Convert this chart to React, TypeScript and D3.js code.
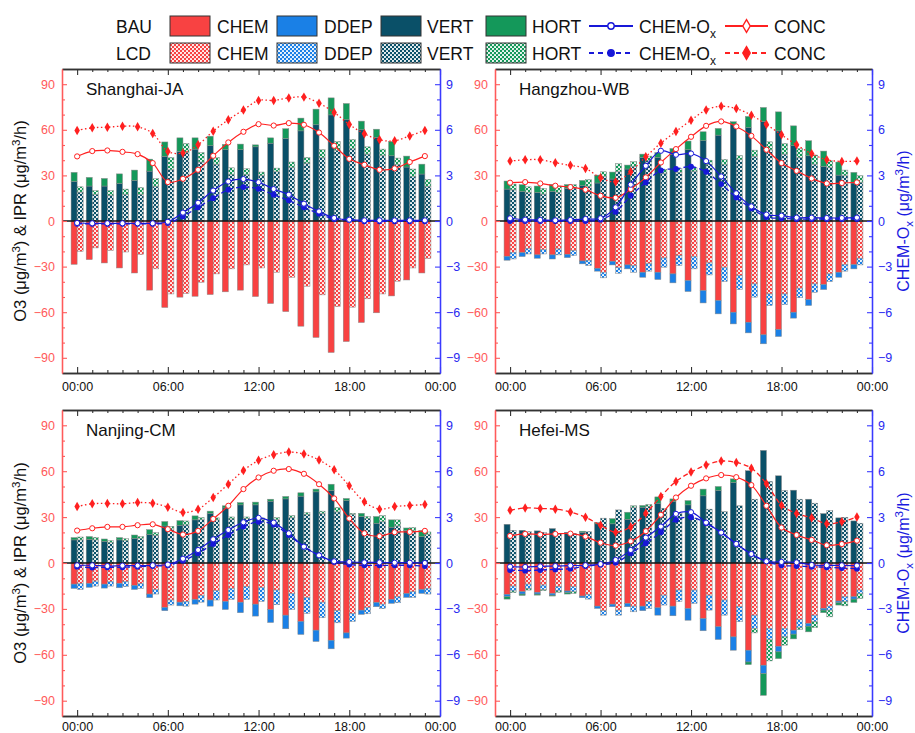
import React, { useEffect, useRef } from "react"
import * as d3 from "d3"

const W = 915
const H = 733

const HOURS = d3.range(24)
const X_TICKS = [0, 6, 12, 18, 24]
const X_TICK_LABELS = ["00:00", "06:00", "12:00", "18:00", "00:00"]
const Y_TICKS = [-90, -60, -30, 0, 30, 60, 90]
const Y2_TICKS = [-9, -6, -3, 0, 3, 6, 9]

// Shanghai-JA
const SH_BAU_VERT = [26, 23, 23, 24.7, 26.7, 32.8, 42.5, 45.8, 47.3, 49.5, 46.9, 46.9, 48.8, 51.2, 54.3, 59.3, 63.3, 69.8, 66.6, 60, 55, 42.9, 35.5, 30.9]
const SH_BAU_HORT = [6, 5.7, 5, 6.3, 6.8, 7.9, 9.5, 8.9, 7.4, 6.3, 3.5, 3.7, 1.3, 3.5, 6.4, 8.4, 10.3, 11.2, 10.7, 5.7, 5.4, 9.4, 7.2, 6.5]
const SH_BAU_CHEM = [-28.5, -25.4, -27.6, -30.9, -34.2, -45.5, -56.9, -50.1, -49.5, -48.4, -46.6, -45.5, -49.7, -54.3, -59.6, -69.2, -76.6, -86.5, -79.3, -66.8, -60.4, -49.3, -38.8, -34.2]
const SH_BAU_DDEP = [0, 0, 0, 0, 0, 0, 0, 0, 0, 0, 0, 0, 0, 0, 0, 0, 0, 0, 0, 0, 0, 0, 0, 0]
const SH_LCD_VERT = [19, 17.5, 17, 17.5, 17.5, 22.8, 33.7, 45, 38.8, 37.4, 30.4, 30.4, 30, 32.4, 35.2, 38.1, 41.6, 46.4, 47.5, 44, 43.1, 37, 29.1, 22.8]
const SH_LCD_HORT = [3.5, 2.5, 3, 3.5, 4.5, 5, 8.1, 6, 6.2, 4.4, 4.6, 4, 2.2, 2.4, 3.6, 3.7, 5.3, 5.9, 6.1, 4.8, 4.2, 4.4, 5.1, 4.6]
const SH_LCD_CHEM = [-20, -17.7, -19.3, -20.4, -22.1, -31.5, -48, -47.7, -40.3, -34.8, -31.5, -28.9, -30.9, -33.7, -37, -42.9, -48.6, -56.3, -56.7, -51.2, -48, -39.6, -30.9, -24.7]
const SH_LCD_DDEP = [0, 0, 0, 0, 0, 0, 0, 0, 0, 0, 0, 0, 0, 0, 0, 0, 0, 0, 0, 0, 0, 0, 0, 0]
const SH_BAU_CONC = [42.5, 46, 46.4, 45.5, 44, 38.1, 25.6, 27.8, 33.7, 42.9, 51.7, 58.7, 63.7, 62.8, 64.4, 63.3, 58.2, 49.5, 40.9, 37, 33.7, 34.6, 38.8, 42.7]
const SH_LCD_CONC = [59.6, 61.3, 61.7, 62.4, 62, 57.6, 45.8, 44.7, 50.1, 59.1, 66.6, 73.1, 79.3, 79.3, 81, 81.5, 77.5, 71.4, 63.5, 57.4, 53.4, 52.8, 56, 59.6]
const SH_BAU_CHEMOX = [-0.13, -0.15, -0.15, -0.15, -0.15, -0.15, -0.05, 0.55, 1.2, 2.0, 2.6, 2.76, 2.55, 2.1, 1.73, 1.14, 0.63, 0.2, 0.09, 0.04, 0.04, 0.04, 0.04, 0.04]
const SH_LCD_CHEMOX = [-0.18, -0.18, -0.18, -0.18, -0.18, -0.18, -0.13, 0.3, 0.9, 1.5, 2.06, 2.23, 2.12, 1.73, 1.36, 0.9, 0.48, 0.13, 0.07, -0.02, -0.02, -0.02, -0.02, -0.02]

// Hangzhou-WB
const HZ_BAU_VERT = [21, 19.5, 18.8, 19.5, 21.5, 23.2, 25, 27.6, 34.2, 41.8, 41.8, 44, 46.9, 52.8, 56.5, 63.7, 61.5, 65.3, 59.3, 49.5, 42.9, 35.9, 30.2, 25]
const HZ_BAU_HORT = [5.3, 4.4, 4.2, 4.5, 2.5, 3.5, 5.2, 4.6, 2.6, 2.2, 3.2, 3.7, 5.7, 5.9, 4.4, 1.6, 7.3, 9.4, 12.5, 13.1, 9.9, 10.1, 8.6, 7]
const HZ_BAU_CHEM = [-23.2, -20.8, -22.3, -22.3, -21.9, -26.3, -31.1, -26.5, -28.9, -33.7, -33.7, -34.8, -39.2, -45.8, -52.3, -60, -66.6, -74.9, -71.4, -60, -51.7, -41.8, -33.7, -28.7]
const HZ_BAU_DDEP = [-2.6, -2.6, -2.2, -2.7, -2.2, -1.9, -1.9, -2.4, -2.6, -3.3, -4.8, -5.9, -7.2, -8.1, -8.8, -7.7, -7, -5.9, -4.6, -3.9, -3.9, -3.3, -3.3, -2.8]
const HZ_LCD_VERT = [20.5, 18.8, 17.7, 18.8, 21.7, 22.6, 29.3, 32.6, 35.9, 39.6, 31.5, 32, 32.8, 37, 37, 40.3, 42.6, 46.9, 44, 41.8, 37.4, 35.2, 29.8, 25.4]
const HZ_LCD_HORT = [3.8, 3.7, 3.8, 4.2, 2.2, 4.6, 3.1, 5.1, 3.1, 3.1, 2.5, 2.5, 2.2, 3, 3.5, 2.7, 4, 5.2, 7, 5.9, 6, 4.4, 3.7, 4.4]
const HZ_LCD_CHEM = [-20.6, -18.2, -18.8, -18.4, -19.5, -25.8, -33.7, -30.4, -29.3, -28, -24.3, -22.8, -23.4, -27.6, -30.4, -35.9, -41.4, -48, -48, -44.2, -41.4, -34.8, -28.7, -24.5]
const HZ_LCD_DDEP = [-4.4, -3.5, -2.9, -3.9, -3.3, -3.5, -3.7, -4, -4.4, -5, -6.1, -6.5, -8.1, -7.9, -9.4, -9.2, -8.7, -7.6, -7, -6.3, -5.5, -5, -4.3, -4.4]
const HZ_BAU_CONC = [25.2, 25.6, 24.7, 23.2, 22.3, 20.6, 16.6, 15.3, 21, 28.7, 38.5, 47.3, 55.4, 62.6, 65.5, 62.2, 56, 46.9, 38.1, 33, 28, 24.7, 25, 25.4]
const HZ_LCD_CONC = [39.4, 40.3, 40.3, 38.3, 36.6, 34.6, 28.5, 25.8, 32.4, 42.3, 51.2, 58.9, 66.3, 73.1, 75.5, 74, 69.6, 63.5, 56.7, 50.1, 44.2, 40.3, 39.2, 39.4]
const HZ_BAU_CHEMOX = [0.18, 0.09, 0.07, 0.04, 0.07, 0.13, 0.18, 0.9, 2.39, 3.63, 4.62, 4.36, 4.44, 3.94, 2.93, 1.82, 0.96, 0.42, 0.35, 0.22, 0.22, 0.2, 0.2, 0.22]
const HZ_LCD_CHEMOX = [0, 0, 0, 0, 0, 0, 0.09, 0.61, 1.66, 2.54, 3.33, 3.42, 3.57, 3.24, 2.43, 1.55, 0.83, 0.26, 0.18, 0.13, 0.13, 0.13, 0.13, 0.13]

// Nanjing-CM
const NJ_BAU_VERT = [15.1, 15.5, 14.2, 15.1, 16.2, 18.6, 24.2, 24.7, 28.2, 32.5, 36, 38, 38, 40.4, 41.9, 43.7, 46.5, 47.4, 40.8, 30.4, 26, 23.4, 21.2, 17.3]
const NJ_BAU_HORT = [1.5, 1.8, 1.5, 1.5, 2.1, 3.2, 2.9, 3, 2.6, 1.4, 1.4, 1.5, 1.8, 1.3, 1.6, 2.2, 1.8, 4.1, 1.4, 2.1, 4.4, 4.8, 1.7, 3.9]
const NJ_BAU_CHEM = [-13.8, -13.3, -13.8, -13.3, -14.6, -20.3, -29, -25.6, -23.8, -24.2, -25.1, -25.6, -26.9, -30.4, -34.1, -38.2, -43.9, -50.5, -45.7, -30.8, -25.8, -23.8, -19.9, -17.3]
const NJ_BAU_DDEP = [-2.8, -2.6, -2.6, -2.9, -2.7, -2.4, -2.2, -2.4, -3.1, -4, -5.3, -6.9, -7.8, -8.5, -8.9, -8.5, -7.4, -5.6, -3.4, -2.8, -2.8, -2.6, -2.6, -2.6]
const NJ_LCD_VERT = [15.1, 15.1, 13.3, 14.6, 15.9, 18.1, 22.3, 24.9, 28.4, 28.2, 28.8, 29.2, 28.6, 28.4, 29.7, 31.7, 32.5, 33.4, 31.7, 29, 27.1, 24.2, 21, 18.6]
const NJ_LCD_HORT = [1.9, 1.7, 1.3, 1.3, 1.4, 1.8, 1.7, 2.6, 1.3, 1.3, 1.3, 0.9, 0.9, 1.3, 1.3, 1.3, 1.4, 2.9, 0.8, 1.4, 3.9, 4, 2.2, 1.7]
const NJ_LCD_CHEM = [-13.3, -11.8, -12, -12.2, -13.3, -17.3, -24.2, -25.1, -21.2, -18.1, -16.6, -15.5, -15.9, -17.7, -19.9, -22.5, -25.6, -31.2, -33, -29, -26.9, -22.1, -18.8, -16.6]
const NJ_LCD_DDEP = [-4, -3.3, -3.1, -3.3, -3.3, -3, -3.3, -3.1, -4.4, -6.1, -7.2, -8.3, -9.2, -9.6, -10.5, -10.5, -10.2, -7.9, -5.2, -4.2, -3, -3.9, -3.7, -3.7]
const NJ_BAU_CONC = [21.2, 22.7, 23.6, 23.6, 24.7, 25.3, 22.1, 18.6, 21, 28.8, 37.4, 48.3, 55.9, 60.3, 61.4, 58.3, 51.5, 42.2, 29.1, 19.4, 17.5, 20.1, 20.3, 21]
const NJ_LCD_CONC = [36.9, 38.7, 38.9, 38.7, 39.5, 39.1, 36.5, 33, 35.2, 42.8, 51.5, 60.5, 67.1, 70.8, 72.5, 71.2, 67.3, 60.9, 50.5, 40, 35.2, 36.9, 37.6, 38.2]
const NJ_BAU_CHEMOX = [-0.15, -0.15, -0.2, -0.17, -0.17, -0.15, -0.1, 0.28, 0.85, 1.55, 2.16, 2.66, 2.95, 2.64, 1.94, 1.07, 0.5, 0.11, 0.07, 0.04, 0.04, 0.02, 0.02, 0]
const NJ_LCD_CHEMOX = [-0.24, -0.3, -0.28, -0.28, -0.24, -0.2, -0.15, 0.15, 0.63, 1.25, 1.83, 2.38, 2.69, 2.51, 1.83, 1.07, 0.5, 0.07, -0.1, -0.15, -0.15, -0.15, -0.15, -0.2]

// Hefei-MS
const HF_BAU_VERT = [25.3, 21.4, 21, 22.5, 20.1, 20.1, 25.6, 25.6, 28.6, 36.5, 39.1, 40.2, 38, 43.9, 47.4, 52.6, 60.3, 73.6, 57, 47.6, 41.7, 32.3, 29.5, 27.5]
const HF_BAU_HORT = [-1.6, -0.9, -0.7, -0.6, -0.9, 0.7, 0.8, 3.4, 4.6, 1.1, 4.1, 1.7, 2.8, 4.4, 2.6, 2.4, -1.7, -14.2, -4.4, -3.1, -3.7, -1.7, -1.5, -2.2]
const HF_BAU_CHEM = [-20.5, -18.8, -19.2, -19.9, -18.3, -21.6, -28.2, -26.9, -26.4, -28.2, -29.3, -28.2, -29.7, -36.3, -41.7, -48.3, -57, -66.8, -54.4, -43.9, -39.5, -29.7, -24.9, -22.1]
const HF_BAU_DDEP = [-1.5, -1.5, -1.1, -1.1, -1.1, -1.1, -1.5, -1.7, -2.2, -3, -4.8, -6.3, -7.7, -8, -8.3, -8.7, -7.7, -5.5, -3.7, -2.6, -1.8, -1.1, -1.1, -1.5]
const HF_LCD_VERT = [21.4, 20.5, 20.1, 19.4, 19.4, 20.5, 29.3, 34.7, 36.5, 36.9, 35.8, 32.5, 29.3, 35.2, 33.6, 37.4, 41.7, 53.3, 47.4, 41.7, 39.1, 34.3, 29.9, 26]
const HF_LCD_HORT = [-1.1, -0.9, -0.8, -0.9, -1.1, 0, 0, 0, 0.9, 1.3, 0, 0, 0, 0, 0, 0, -2.9, -14, -5.4, -1.3, -3.8, -4.4, -2.7, -3.3]
const HF_LCD_CHEM = [-15.1, -13.8, -14.4, -15.5, -15.5, -20.5, -31.2, -30.8, -28.2, -25.3, -21, -17.7, -17.7, -21, -24.2, -28.6, -34.1, -42.8, -42.8, -36.9, -34.1, -28.2, -22.1, -17.7]
const HF_LCD_DDEP = [-3.2, -3, -2.9, -2.8, -3.3, -3.1, -2.9, -3.3, -3.7, -4.4, -6.5, -7.6, -8.7, -9.8, -9.9, -9.8, -8.7, -7.2, -5.5, -5.3, -4.3, -2.6, -3.2, -2.2]
const HF_BAU_CONC = [17.7, 19, 18.6, 19, 19.2, 17.3, 13.3, 11.4, 14.2, 20.8, 31.5, 42.8, 50.5, 55.3, 57.5, 56.1, 50.9, 37.4, 23.2, 18.3, 15.1, 11.6, 12.4, 14.6]
const HF_LCD_CONC = [34.5, 36, 35.6, 35.2, 33.4, 29.9, 24.7, 20.1, 23.6, 32.5, 43.5, 53.3, 59.4, 64, 66.6, 65.7, 62, 51.8, 37.8, 32.3, 29.5, 25.6, 26.9, 30.1]
const HF_BAU_CHEMOX = [-0.24, -0.26, -0.22, -0.2, -0.17, -0.15, -0.07, 0.2, 0.85, 1.66, 2.38, 3.21, 3.32, 2.64, 1.99, 1.25, 0.59, 0.11, 0.07, 0.04, -0.13, -0.15, -0.15, -0.17]
const HF_LCD_CHEMOX = [-0.46, -0.5, -0.46, -0.42, -0.37, -0.2, -0.11, 0.02, 0.63, 1.29, 2.01, 2.82, 2.99, 2.6, 1.99, 1.25, 0.59, 0.11, -0.15, -0.2, -0.24, -0.28, -0.33, -0.37]

const KEYS = ["CHEM", "DDEP", "VERT", "HORT"]
const COLORS: Record<string, string> = {
    CHEM: "#f84242",
    DDEP: "#1a80e6",
    VERT: "#0a5068",
    HORT: "#14985a",
}
const OX_COLOR = "#1818d8"
const CONC_COLOR = "#ff2020"
const FONT = "'Liberation Sans', Arial, sans-serif"

const SITES = [
    {
        name: "Shanghai-JA",
        bau: { CHEM: SH_BAU_CHEM, DDEP: SH_BAU_DDEP, VERT: SH_BAU_VERT, HORT: SH_BAU_HORT, conc: SH_BAU_CONC, ox: SH_BAU_CHEMOX },
        lcd: { CHEM: SH_LCD_CHEM, DDEP: SH_LCD_DDEP, VERT: SH_LCD_VERT, HORT: SH_LCD_HORT, conc: SH_LCD_CONC, ox: SH_LCD_CHEMOX },
        concDash: "1.5,2.5",
    },
    {
        name: "Hangzhou-WB",
        bau: { CHEM: HZ_BAU_CHEM, DDEP: HZ_BAU_DDEP, VERT: HZ_BAU_VERT, HORT: HZ_BAU_HORT, conc: HZ_BAU_CONC, ox: HZ_BAU_CHEMOX },
        lcd: { CHEM: HZ_LCD_CHEM, DDEP: HZ_LCD_DDEP, VERT: HZ_LCD_VERT, HORT: HZ_LCD_HORT, conc: HZ_LCD_CONC, ox: HZ_LCD_CHEMOX },
        concDash: "1.5,2.5",
    },
    {
        name: "Nanjing-CM",
        bau: { CHEM: NJ_BAU_CHEM, DDEP: NJ_BAU_DDEP, VERT: NJ_BAU_VERT, HORT: NJ_BAU_HORT, conc: NJ_BAU_CONC, ox: NJ_BAU_CHEMOX },
        lcd: { CHEM: NJ_LCD_CHEM, DDEP: NJ_LCD_DDEP, VERT: NJ_LCD_VERT, HORT: NJ_LCD_HORT, conc: NJ_LCD_CONC, ox: NJ_LCD_CHEMOX },
        concDash: "1.5,2.5",
    },
    {
        name: "Hefei-MS",
        bau: { CHEM: HF_BAU_CHEM, DDEP: HF_BAU_DDEP, VERT: HF_BAU_VERT, HORT: HF_BAU_HORT, conc: HF_BAU_CONC, ox: HF_BAU_CHEMOX },
        lcd: { CHEM: HF_LCD_CHEM, DDEP: HF_LCD_DDEP, VERT: HF_LCD_VERT, HORT: HF_LCD_HORT, conc: HF_LCD_CONC, ox: HF_LCD_CHEMOX },
        concDash: "5,3",
    },
]

// panel frames (px)
const PANELS = [
    { x0: 62, x1: 440, y0: 69, y1: 373 },
    { x0: 495, x1: 872, y0: 69, y1: 373 },
    { x0: 62, x1: 440, y0: 410, y1: 716 },
    { x0: 495, x1: 872, y0: 410, y1: 716 },
]

const App: React.FC = () => {
    const svgRef = useRef<SVGSVGElement | null>(null)

    useEffect(() => {
        if (!svgRef.current) return
        const svg = d3.select(svgRef.current)
        svg.selectAll("*").remove()

        // LCD hatch patterns
        const defs = svg.append("defs")
        KEYS.forEach(k => {
            const pat = defs
                .append("pattern")
                .attr("id", `lcd-${k}`)
                .attr("patternUnits", "userSpaceOnUse")
                .attr("width", 4)
                .attr("height", 4)
            pat.append("rect").attr("width", 4).attr("height", 4).attr("fill", COLORS[k])
            pat.append("circle").attr("cx", 1).attr("cy", 1).attr("r", 1.05).attr("fill", "#fff")
            pat.append("circle").attr("cx", 3).attr("cy", 3).attr("r", 1.05).attr("fill", "#fff")
        })

        SITES.forEach((site, si) => {
            const p = PANELS[si]
            const g = svg.append("g")

            const x = d3.scaleLinear().domain([-1, 24]).range([p.x0, p.x1])
            const y = d3.scaleLinear().domain([-100, 100]).range([p.y1, p.y0])
            const y2 = d3.scaleLinear().domain([-10, 10]).range([p.y1, p.y0])
            const bw = x(0.4) - x(0)

            // stacked bars
            ;[
                { s: site.bau, off: -0.4, lcd: false },
                { s: site.lcd, off: 0, lcd: true },
            ].forEach(({ s, off, lcd }) => {
                const rows = HOURS.map((h, i) => ({
                    hour: h,
                    CHEM: s.CHEM[i],
                    DDEP: s.DDEP[i],
                    VERT: s.VERT[i],
                    HORT: s.HORT[i],
                }))
                const stacked = d3
                    .stack<any>()
                    .keys(KEYS)
                    .offset(d3.stackOffsetDiverging)(rows)
                stacked.forEach(layer => {
                    g.selectAll(null)
                        .data(layer.filter(d => d[1] !== d[0]))
                        .enter()
                        .append("rect")
                        .attr("x", d => x(d.data.hour + off))
                        .attr("width", bw)
                        .attr("y", d => y(Math.max(d[0], d[1])))
                        .attr("height", d => Math.abs(y(d[0]) - y(d[1])))
                        .attr("fill", lcd ? `url(#lcd-${layer.key})` : COLORS[layer.key])
                        .attr("stroke", "#8a8a8a")
                        .attr("stroke-width", 0.5)
                })
            })

            // zero line
            g.append("line")
                .attr("x1", p.x0)
                .attr("x2", p.x1)
                .attr("y1", y(0))
                .attr("y2", y(0))
                .attr("stroke", "#111")
                .attr("stroke-width", 1.3)

            const curve = d3.curveCatmullRom.alpha(0.5)

            // CONC lines
            const concLine = d3
                .line<number>()
                .x((_, i) => x(HOURS[i]))
                .y(v => y(v))
                .curve(curve)
            g.append("path")
                .attr("d", concLine(site.bau.conc))
                .attr("fill", "none")
                .attr("stroke", CONC_COLOR)
                .attr("stroke-width", 1.2)
            g.append("path")
                .attr("d", concLine(site.lcd.conc))
                .attr("fill", "none")
                .attr("stroke", CONC_COLOR)
                .attr("stroke-width", 1.3)
                .attr("stroke-dasharray", site.concDash)

            // CHEM-Ox lines
            const oxLine = d3
                .line<number>()
                .x((_, i) => x(HOURS[i]))
                .y(v => y2(v))
                .curve(curve)
            g.append("path")
                .attr("d", oxLine(site.bau.ox))
                .attr("fill", "none")
                .attr("stroke", OX_COLOR)
                .attr("stroke-width", 1.2)
            g.append("path")
                .attr("d", oxLine(site.lcd.ox))
                .attr("fill", "none")
                .attr("stroke", OX_COLOR)
                .attr("stroke-width", 1.3)
                .attr("stroke-dasharray", "5,3")

            // markers
            const diamond = d3.symbol().type(d3.symbolDiamond).size(26)
            g.selectAll(null)
                .data(site.lcd.conc)
                .enter()
                .append("path")
                .attr("d", diamond()!)
                .attr("transform", (v, i) => `translate(${x(HOURS[i])},${y(v)})`)
                .attr("fill", CONC_COLOR)
            g.selectAll(null)
                .data(site.bau.conc)
                .enter()
                .append("circle")
                .attr("cx", (_, i) => x(HOURS[i]))
                .attr("cy", v => y(v))
                .attr("r", 2.6)
                .attr("fill", "#fff")
                .attr("stroke", CONC_COLOR)
                .attr("stroke-width", 1)
            g.selectAll(null)
                .data(site.lcd.ox)
                .enter()
                .append("circle")
                .attr("cx", (_, i) => x(HOURS[i]))
                .attr("cy", v => y2(v))
                .attr("r", 2.9)
                .attr("fill", OX_COLOR)
            g.selectAll(null)
                .data(site.bau.ox)
                .enter()
                .append("circle")
                .attr("cx", (_, i) => x(HOURS[i]))
                .attr("cy", v => y2(v))
                .attr("r", 2.6)
                .attr("fill", "#fff")
                .attr("stroke", OX_COLOR)
                .attr("stroke-width", 1)

            // axes
            const style = (sel: any, line: string, text: string) => {
                sel.attr("font-family", FONT).attr("font-size", 12.5)
                sel.select(".domain").attr("stroke", line).attr("stroke-width", 1.3)
                sel.selectAll(".tick line").attr("stroke", line).attr("stroke-width", 1.1)
                sel.selectAll(".tick text").attr("fill", text)
            }
            const xMinor = HOURS.filter(h => h % 6 !== 0)
            const yMinor = d3.range(-90, 91, 10).filter(v => v % 30 !== 0)
            const y2Minor = d3.range(-9, 10, 1).filter(v => v % 3 !== 0)

            const bottom = g
                .append("g")
                .attr("transform", `translate(0,${p.y1})`)
                .call(
                    d3
                        .axisBottom(x)
                        .tickValues(X_TICKS)
                        .tickSize(-6)
                        .tickSizeOuter(0)
                        .tickPadding(si < 2 ? 9 : 6)
                        .tickFormat((_, i) => X_TICK_LABELS[i])
                )
            style(bottom, "#333", "#111")
            const bottomMinor = g
                .append("g")
                .attr("transform", `translate(0,${p.y1})`)
                .call(d3.axisBottom(x).tickValues(xMinor).tickSize(-3).tickSizeOuter(0).tickFormat(() => ""))
            style(bottomMinor, "#333", "#111")

            const top = g
                .append("g")
                .attr("transform", `translate(0,${p.y0})`)
                .call(d3.axisTop(x).tickValues(X_TICKS).tickSize(-6).tickSizeOuter(0).tickFormat(() => ""))
            style(top, "#333", "#111")
            const topMinor = g
                .append("g")
                .attr("transform", `translate(0,${p.y0})`)
                .call(d3.axisTop(x).tickValues(xMinor).tickSize(-3).tickSizeOuter(0).tickFormat(() => ""))
            style(topMinor, "#333", "#111")

            const left = g
                .append("g")
                .attr("transform", `translate(${p.x0},0)`)
                .call(d3.axisLeft(y).tickValues(Y_TICKS).tickSize(-5).tickSizeOuter(0).tickPadding(7).tickFormat(d3.format("d")))
            style(left, "#ff5a5a", "#ff5a5a")
            const leftMinor = g
                .append("g")
                .attr("transform", `translate(${p.x0},0)`)
                .call(d3.axisLeft(y).tickValues(yMinor).tickSize(-3).tickSizeOuter(0).tickFormat(() => ""))
            style(leftMinor, "#ff5a5a", "#ff5a5a")

            const right = g
                .append("g")
                .attr("transform", `translate(${p.x1},0)`)
                .call(d3.axisRight(y2).tickValues(Y2_TICKS).tickSize(-5).tickSizeOuter(0).tickPadding(6).tickFormat(d3.format("d")))
            style(right, "#3a3aff", "#2a2af0")
            const rightMinor = g
                .append("g")
                .attr("transform", `translate(${p.x1},0)`)
                .call(d3.axisRight(y2).tickValues(y2Minor).tickSize(-3).tickSizeOuter(0).tickFormat(() => ""))
            style(rightMinor, "#3a3aff", "#2a2af0")

            // panel title
            g.append("text")
                .attr("x", p.x0 + 24)
                .attr("y", p.y0 + 26)
                .attr("font-family", FONT)
                .attr("font-size", 17)
                .attr("fill", "#111")
                .text(site.name)

            const cy = (p.y0 + p.y1) / 2
            if (si % 2 === 0) {
                const t = g
                    .append("text")
                    .attr("transform", `translate(26,${cy}) rotate(-90)`)
                    .attr("text-anchor", "middle")
                    .attr("font-family", FONT)
                    .attr("font-size", 16.5)
                    .attr("fill", "#111")
                t.append("tspan").text("O3 (μg/m")
                t.append("tspan").attr("dy", -6).attr("font-size", 11.5).text("3")
                t.append("tspan").attr("dy", 6).text(") & IPR (μg/m")
                t.append("tspan").attr("dy", -6).attr("font-size", 11.5).text("3")
                t.append("tspan").attr("dy", 6).text("/h)")
            } else {
                const t = g
                    .append("text")
                    .attr("transform", `translate(909,${cy}) rotate(-90)`)
                    .attr("text-anchor", "middle")
                    .attr("font-family", FONT)
                    .attr("font-size", 16)
                    .attr("fill", "#1a1ae0")
                t.append("tspan").text("CHEM-O")
                t.append("tspan").attr("dy", 4).attr("font-size", 11.5).text("x")
                t.append("tspan").attr("dy", -4).text(" (μg/m")
                t.append("tspan").attr("dy", -6).attr("font-size", 11.5).text("3")
                t.append("tspan").attr("dy", 6).text("/h)")
            }
        })

        // legend
        const lg = svg.append("g").attr("font-family", FONT).attr("fill", "#111")
        const SWATCH_X = [170, 277, 381, 486]
        const LABEL_X = [217, 324, 427, 532]
        const rowsY = [16, 43]
        ;["BAU", "LCD"].forEach((scen, r) => {
            const top = rowsY[r]
            const base = top + 16.5
            const label = (tx: number, txt: string) =>
                lg.append("text").attr("x", tx).attr("y", base).attr("font-size", 17.5).text(txt)
            label(116, scen)
            KEYS.forEach((k, i) => {
                lg.append("rect")
                    .attr("x", SWATCH_X[i])
                    .attr("y", top)
                    .attr("width", 40)
                    .attr("height", 20)
                    .attr("fill", r === 0 ? COLORS[k] : `url(#lcd-${k})`)
                    .attr("stroke", "#333")
                    .attr("stroke-width", 1)
                label(LABEL_X[i], k)
            })
            const cy = top + 10
            // CHEM-Ox
            lg.append("line")
                .attr("x1", 589).attr("x2", 633).attr("y1", cy).attr("y2", cy)
                .attr("stroke", OX_COLOR).attr("stroke-width", 1.8)
                .attr("stroke-dasharray", r === 0 ? null : "5,4")
            lg.append("circle")
                .attr("cx", 611).attr("cy", cy).attr("r", 3.2)
                .attr("fill", r === 0 ? "#fff" : OX_COLOR)
                .attr("stroke", OX_COLOR).attr("stroke-width", 1.4)
            const ox = lg.append("text").attr("x", 639).attr("y", base).attr("font-size", 17.5)
            ox.append("tspan").text("CHEM-O")
            ox.append("tspan").attr("dy", 5).attr("font-size", 12).text("x")
            // CONC
            lg.append("line")
                .attr("x1", 725).attr("x2", 768).attr("y1", cy).attr("y2", cy)
                .attr("stroke", CONC_COLOR).attr("stroke-width", 1.8)
                .attr("stroke-dasharray", r === 0 ? null : "5,4")
            lg.append("path")
                .attr("d", d3.symbol().type(d3.symbolDiamond).size(48)()!)
                .attr("transform", `translate(746.5,${cy})`)
                .attr("fill", r === 0 ? "#fff" : CONC_COLOR)
                .attr("stroke", CONC_COLOR)
                .attr("stroke-width", 1.4)
            label(774, "CONC")
        })
    }, [])

    return (
        <svg
            ref={svgRef}
            width={W}
            height={H}
            style={{ position: "absolute", left: 0, top: 0, background: "#fff" }}
        />
    )
}

export default App
